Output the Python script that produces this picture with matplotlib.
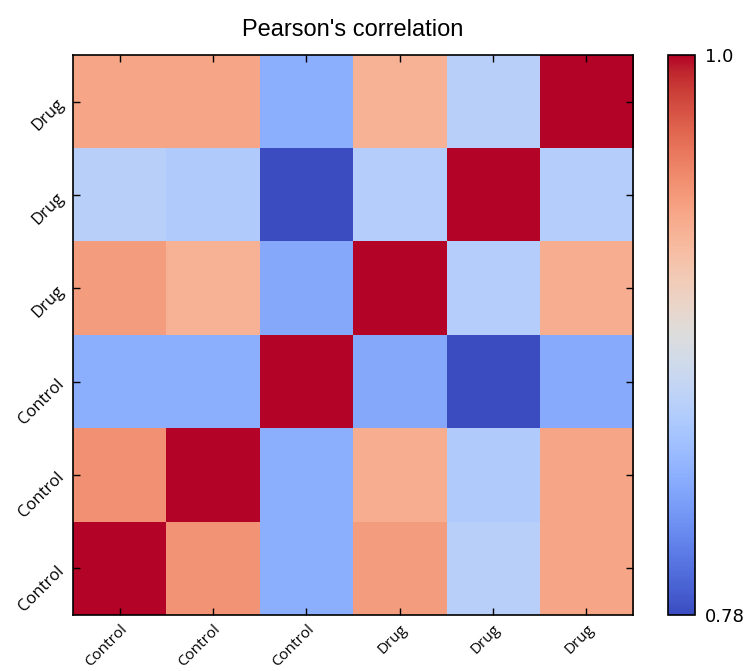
import numpy as np
import matplotlib
matplotlib.use("Agg")
import matplotlib.pyplot as plt

labels = ["Control", "Control", "Control", "Drug", "Drug", "Drug"]

# correlation matrix, row 0 = bottom row
corr = np.array([
    [1.000, 0.948, 0.835, 0.943, 0.862, 0.938],
    [0.950, 1.000, 0.835, 0.933, 0.858, 0.938],
    [0.835, 0.835, 1.000, 0.830, 0.780, 0.832],
    [0.943, 0.931, 0.830, 1.000, 0.860, 0.933],
    [0.862, 0.858, 0.780, 0.860, 1.000, 0.860],
    [0.938, 0.938, 0.835, 0.931, 0.862, 1.000],
])
vmin, vmax = 0.78, 1.0

fig = plt.figure(figsize=(7.46, 6.71), dpi=100)
ax = fig.add_axes([0.0979, 0.0835, 0.7507, 0.8346])
cax = fig.add_axes([0.8954, 0.0835, 0.0362, 0.8346])

im = ax.imshow(corr, cmap="coolwarm", vmin=vmin, vmax=vmax, origin="lower",
               interpolation="nearest", aspect="auto")

ticks = np.arange(len(labels))
ax.set_xticks(ticks)
ax.set_yticks(ticks)
ax.set_xticklabels(labels, rotation=45, ha="right", rotation_mode="anchor",
                   family="Open Sans", fontsize=11)
ax.set_yticklabels(labels, rotation=45, ha="right", va="center",
                   rotation_mode="anchor", family="Open Sans", fontsize=12)
ax.tick_params(direction="in", top=True, right=True, length=5, width=1, pad=8)
ax.tick_params(axis="x", pad=5)
for s in ax.spines.values():
    s.set_linewidth(1.2)
ax.set_title("Pearson's correlation", family="Liberation Sans", fontsize=17, pad=14)

cb = fig.colorbar(im, cax=cax, ticks=[vmin, vmax])
cb.ax.set_yticklabels(["0.78", "1.0"])
cb.ax.tick_params(length=0, labelsize=13, pad=7)
cb.outline.set_linewidth(1.2)

fig.savefig("out.png", dpi=100)
